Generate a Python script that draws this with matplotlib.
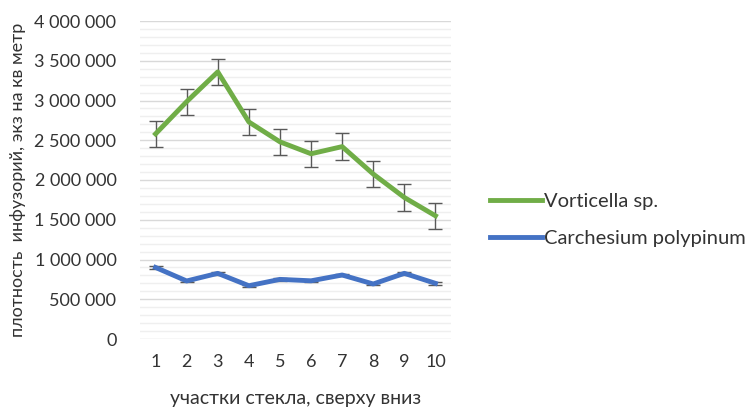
import numpy as np
import matplotlib.pyplot as plt
from matplotlib.ticker import MultipleLocator, FuncFormatter
from matplotlib.lines import Line2D

plt.rcParams['font.family'] = ['Lato', 'DejaVu Sans']

uchastki = [1, 2, 3, 4, 5, 6, 7, 8, 9, 10]
vorticella = [2580000, 2985000, 3360000, 2730000, 2480000, 2330000, 2420000, 2075000, 1780000, 1550000]
vorticella_err = [165000, 165000, 165000, 165000, 165000, 165000, 165000, 165000, 170000, 165000]
carchesium = [900000, 730000, 826000, 670000, 750000, 732000, 805000, 692000, 826000, 700000]
carchesium_err = [20000, 15000, 15000, 15000, 15000, 15000, 15000, 15000, 15000, 15000]

fig = plt.figure(figsize=(7.49, 4.12), dpi=100)
ax = fig.add_axes([140/749, 1-339/412, 311/749, 318/412])

x = np.array(uchastki)
ax.errorbar(x, vorticella, yerr=vorticella_err, color='#70AD47', lw=3.5,
            ecolor='#595959', elinewidth=1, capsize=5, capthick=1,
            label='Vorticella sp.', zorder=3)
ax.errorbar(x, carchesium, yerr=carchesium_err, color='#4472C4', lw=3.5,
            ecolor='#595959', elinewidth=1, capsize=5, capthick=1,
            label='Carchesium polypinum', zorder=3)

ax.set_xlim(0.5, 10.5)
ax.set_ylim(0, 4000000)
ax.set_xticks(x)
ax.yaxis.set_major_locator(MultipleLocator(500000))
ax.yaxis.set_minor_locator(MultipleLocator(100000))
ax.yaxis.set_major_formatter(FuncFormatter(lambda v, p: f"{v:,.0f}".replace(",", " ")))
ax.grid(axis='y', which='major', color='#d9d9d9', lw=1)
ax.grid(axis='y', which='minor', color='#efefef', lw=1)
ax.set_axisbelow(True)
for s in ax.spines.values():
    s.set_visible(False)
ax.tick_params(which='both', length=0, labelsize=13, colors='#333333')
ax.tick_params(axis='x', pad=11)
ax.tick_params(axis='y', pad=17)

ax.set_xlabel('участки стекла, сверху вниз', fontsize=14, color='#333333', labelpad=14)
ax.set_ylabel('плотность  инфузорий, экз на кв метр', fontsize=13, color='#333333', labelpad=6)

labels = ['Vorticella sp.', 'Carchesium polypinum']
hl = [Line2D([], [], color='#70AD47', lw=3.5), Line2D([], [], color='#4472C4', lw=3.5)]
fig.legend(hl, labels, loc='center left', bbox_to_anchor=(482/749, 1-220/412),
           frameon=False, fontsize=14.5, handlelength=2.6, handletextpad=0.1,
           labelspacing=1.0, labelcolor='#333333', borderaxespad=0)

fig.savefig('out.png', dpi=100)
